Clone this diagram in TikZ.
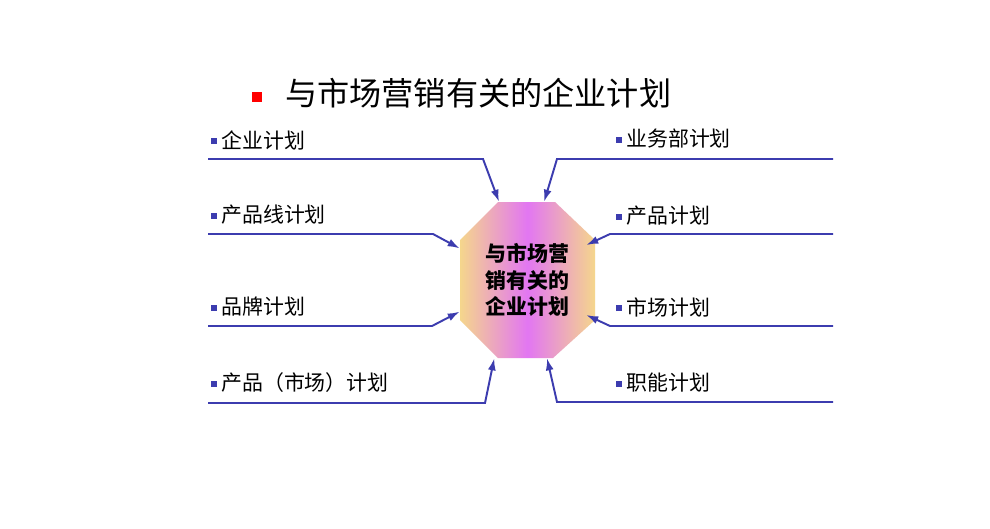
\documentclass[tikz,border=0pt]{standalone}
\usepackage{fontspec}
\setmainfont{Noto Sans CJK SC}
\usepackage{tikz}
\usetikzlibrary{arrows.meta}
\definecolor{linkblue}{RGB}{60,60,175}
\definecolor{octgold}{RGB}{245,214,140}
\definecolor{octpink}{RGB}{226,118,242}
\newcommand{\bluedot}{\textcolor{linkblue}{\rule[0.08cm]{0.12cm}{0.12cm}}\hspace{0.08cm}}
\newcommand{\reddot}{\textcolor{red}{\rule[0.06cm]{0.2cm}{0.2cm}}\hspace{0.46cm}}

\begin{document}
\begin{tikzpicture}[x=0.02cm,y=-0.02cm,
  lbl/.style={anchor=west,inner sep=0pt,font=\fontsize{11.9pt}{14pt}\selectfont},
  link/.style={draw=linkblue,line width=1.1pt,-{Latex[length=2.4mm,width=1.6mm]}},
  octnode/.style={minimum width=2.7cm,minimum height=3.12cm,inner sep=0pt,align=center,
    font=\bfseries\fontsize{11.9pt}{15.3pt}\selectfont}]
\useasboundingbox[fill=white] (0,0) rectangle (990,528);

\node[anchor=west,inner sep=0pt,font=\fontsize{18.3pt}{20pt}\selectfont] (title) at (252,93) {\reddot 与市场营销有关的企业计划};

% octagon in the middle
\shade[left color=octgold,right color=octgold,middle color=octpink]
  (498,202) -- (555,202) -- (595,240) -- (595,320) -- (553,358) -- (498,358) -- (460,320) -- (460,240) -- cycle;
\node[octnode] (oct) at (527.5,280) {与市场营\\销有关的\\企业计划};

% left side
\node[lbl] (qy) at (211,140) {\bluedot 企业计划};
\node[lbl] (cpx) at (211,215) {\bluedot 产品线计划};
\node[lbl] (pp) at (211,307) {\bluedot 品牌计划};
\node[lbl] (cpsc) at (211,383) {\bluedot 产品（市场）计划};
\coordinate (qys) at (208,159);
\coordinate (cpxs) at (208,234);
\coordinate (pps) at (208,326);
\coordinate (cpscs) at (208,403);
\draw[link] (qys) -- ++(275,0) -- (oct.110);
\draw[link] (cpxs) -- ++(225,0) -- (oct.155);
\draw[link] (pps) -- ++(224,0) -- (oct.205);
\draw[link] (cpscs) -- ++(277,0) -- (oct.247);

% right side
\node[lbl] (ywb) at (616,139) {\bluedot 业务部计划};
\node[lbl] (cp) at (616,216) {\bluedot 产品计划};
\node[lbl] (sc) at (616,307) {\bluedot 市场计划};
\node[lbl] (zn) at (616,383) {\bluedot 职能计划};
\coordinate (ywbs) at (833,159);
\coordinate (cps) at (833,234);
\coordinate (scs) at (833,326);
\coordinate (zns) at (833,402);
\draw[link] (ywbs) -- ++(-276,0) -- (oct.78);
\draw[link,shorten >=-0.2cm] (cps) -- ++(-223,0) -- (oct.30);
\draw[link,shorten >=-0.2cm] (scs) -- ++(-223,0) -- (oct.330);
\draw[link] (zns) -- ++(-276,0) -- (oct.284);
\end{tikzpicture}
\end{document}
